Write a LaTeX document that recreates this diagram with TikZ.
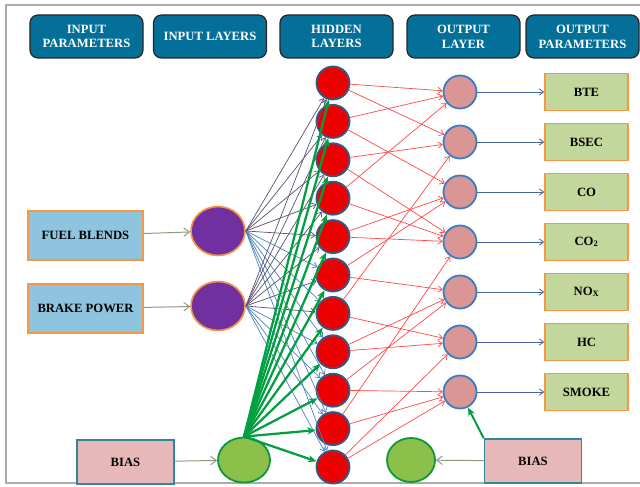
\documentclass[tikz,border=0pt]{standalone}
\usepackage{fontspec}
\setmainfont{Liberation Serif}
\usetikzlibrary{arrows.meta,shapes.geometric}

\definecolor{headcol}{HTML}{04709A}
\definecolor{edgeorange}{HTML}{F79646}
\definecolor{inblue}{HTML}{8EC4DE}
\definecolor{outgreen}{HTML}{C3D69B}
\definecolor{biaspink}{HTML}{E6B9B8}
\definecolor{biasedge}{HTML}{31859C}
\definecolor{inpurple}{HTML}{7030A0}
\definecolor{hidred}{HTML}{EE0000}
\definecolor{hidedge}{HTML}{2F5B8C}
\definecolor{outpink}{HTML}{D99694}
\definecolor{outedge}{HTML}{3C7DC4}
\definecolor{biasgreen}{HTML}{8CC04B}
\definecolor{greenedge}{HTML}{0E9A3C}
\definecolor{arrowgreen}{HTML}{00A040}
\definecolor{darklink}{HTML}{5C5070}
\definecolor{bluelink}{HTML}{4F81BD}
\definecolor{redlink}{HTML}{FF4848}
\definecolor{graylink}{HTML}{8C9A80}
\definecolor{outlink}{HTML}{4A66A0}

\begin{document}
\begin{tikzpicture}[x=0.25mm,y=-0.25mm,
    font=\bfseries\fontsize{9}{10.5}\selectfont,
    header/.style={draw=black!85,line width=0.9pt,rounded corners=2mm,fill=headcol,
        text=white,align=center,minimum width=28.25mm,minimum height=10.75mm},
    parbox/.style={draw=edgeorange,line width=1.2pt,fill=inblue,
        minimum width=28.75mm,minimum height=12.25mm},
    resbox/.style={draw=edgeorange,line width=1.2pt,fill=outgreen,
        minimum width=20.75mm,minimum height=9.25mm},
    biasbox/.style={draw=biasedge,line width=1.2pt,fill=biaspink,
        minimum width=24.25mm,minimum height=11mm},
    innode/.style={ellipse,draw=edgeorange,line width=1.2pt,fill=inpurple,
        minimum width=13.5mm,minimum height=12.25mm,inner sep=0pt},
    hidnode/.style={circle,draw=hidedge,line width=1.3pt,fill=hidred,
        minimum size=8.25mm,inner sep=0pt},
    outnode/.style={circle,draw=outedge,line width=1.3pt,fill=outpink,
        minimum size=8.25mm,inner sep=0pt},
    biasnode/.style={ellipse,draw=greenedge,line width=1.3pt,fill=biasgreen,inner sep=0pt},
    thinlink/.style={line width=0.5pt,-{Straight Barb[length=3pt,width=4.5pt]}},
    feedlink/.style={graylink,line width=0.7pt,-{Straight Barb[length=4pt,width=6pt]}},
    greenlink/.style={arrowgreen,line width=1.6pt,-{Stealth[length=6pt,width=5pt]}}]

    \useasboundingbox (0,0) rectangle (640,486);
    \draw[gray!65,line width=1.2pt] (6,5) rectangle (650,483);

    \foreach \x/\t [count=\i] in {86.5/{INPUT\\PARAMETERS}, 210/{INPUT LAYERS},
            336.5/{HIDDEN\\LAYERS}, 463.5/{OUTPUT\\LAYER}, 582.5/{OUTPUT\\PARAMETERS}}
        \node[header] (hd\i) at (\x,36.5) {\t};

    \node[parbox] (fuel) at (85.5,235.5) {FUEL BLENDS};
    \node[parbox] (brake) at (85.5,308.5) {BRAKE POWER};
    \node[innode] (in1) at (218,231) {};
    \node[innode] (in2) at (218,306) {};

    \node[biasbox] (biasl) at (125.5,462) {BIAS};
    \node[biasnode,minimum width=13mm,minimum height=11.25mm] (bl) at (244,460) {};
    \node[biasbox] (biasr) at (533,461) {BIAS};
    \node[biasnode,minimum width=12mm,minimum height=11mm] (br) at (411,460) {};

    \foreach \k in {1,...,11}
        \node[hidnode] (h\k) at (333,{83+38.4*(\k-1)}) {};

    \foreach \k/\t in {1/BTE, 2/BSEC, 3/CO, 4/CO\textsubscript{2}, 5/NO\textsubscript{X}, 6/HC, 7/SMOKE}{
        \node[outnode] (o\k) at (460,{92+50*(\k-1)}) {};
        \node[resbox] (p\k) at (586.5,{92+50*(\k-1)}) {\t};
        \draw[thinlink,outlink,line width=0.6pt] (o\k) -- (p\k);
    }

    \draw[feedlink] (fuel) -- (in1);
    \draw[feedlink] (brake) -- (in2);
    \draw[feedlink] (biasl) -- (bl);
    \draw[feedlink] (biasr) -- (br);

    \foreach \k in {1,...,5}
        \draw[thinlink,darklink] (in1.east) -- (h\k);
    \foreach \k in {6,...,11}
        \draw[thinlink,bluelink] (in1.east) -- (h\k);
    \foreach \k in {1,...,7}
        \draw[thinlink,darklink] (in2.east) -- (h\k);
    \foreach \k in {8,...,11}
        \draw[thinlink,bluelink] (in2.east) -- (h\k);

    \foreach \k in {1,...,11}
        \draw[greenlink] (bl.north) -- (h\k);

    \foreach \a/\b in {1/1, 1/2, 2/1, 2/3, 3/2, 3/4, 4/1, 4/4, 5/3, 5/4, 6/3, 6/5,
            7/2, 7/6, 8/5, 8/6, 9/7, 9/5, 10/7, 10/4, 11/7, 11/6}
        \draw[thinlink,redlink] (h\a) -- (o\b);

    \draw[greenlink,line width=1.4pt] (biasr.north west) -- (o7);
\end{tikzpicture}
\end{document}
